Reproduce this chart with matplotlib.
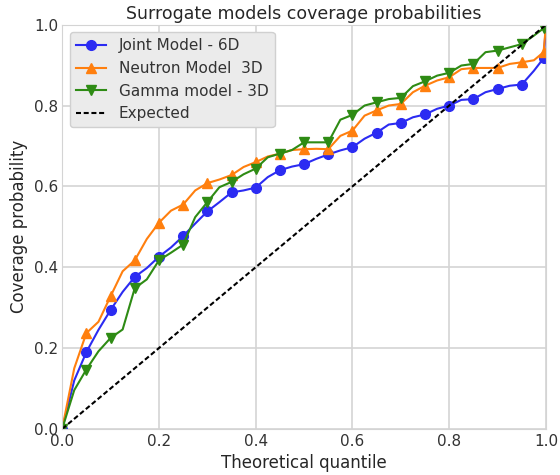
import numpy as np
import matplotlib
matplotlib.use('Agg')
import matplotlib.pyplot as plt

# theoretical quantiles (fine grid), markers every 0.05
quantile = [0.0, 0.025, 0.05, 0.075, 0.1, 0.125, 0.15, 0.175, 0.2, 0.225,
            0.25, 0.275, 0.3, 0.325, 0.35, 0.375, 0.4, 0.425, 0.45, 0.475,
            0.5, 0.525, 0.55, 0.575, 0.6, 0.625, 0.65, 0.675, 0.7, 0.725,
            0.75, 0.775, 0.8, 0.825, 0.85, 0.875, 0.9, 0.925, 0.95, 0.975,
            0.995, 1.0]

joint_cov = [0.0, 0.12, 0.19, 0.245, 0.294, 0.339, 0.376, 0.398, 0.426, 0.449,
             0.477, 0.508, 0.538, 0.561, 0.585, 0.59, 0.597, 0.623, 0.64, 0.649,
             0.655, 0.668, 0.679, 0.689, 0.697, 0.718, 0.733, 0.753, 0.757, 0.771,
             0.778, 0.792, 0.80, 0.814, 0.816, 0.833, 0.841, 0.849, 0.852, 0.886,
             0.917, 1.0]

neutron_cov = [0.0, 0.15, 0.237, 0.265, 0.328, 0.39, 0.417, 0.47, 0.51, 0.54,
               0.555, 0.59, 0.608, 0.617, 0.628, 0.648, 0.66, 0.674, 0.681, 0.69,
               0.692, 0.693, 0.692, 0.725, 0.738, 0.775, 0.788, 0.80, 0.804, 0.833,
               0.849, 0.862, 0.87, 0.89, 0.893, 0.893, 0.893, 0.903, 0.907, 0.912,
               0.932, 1.0]

gamma_cov = [0.0, 0.096, 0.147, 0.192, 0.225, 0.246, 0.348, 0.37, 0.417, 0.436,
             0.456, 0.524, 0.561, 0.598, 0.611, 0.63, 0.644, 0.672, 0.681, 0.69,
             0.709, 0.709, 0.709, 0.765, 0.777, 0.80, 0.808, 0.816, 0.819, 0.848,
             0.86, 0.874, 0.881, 0.899, 0.903, 0.932, 0.936, 0.944, 0.952, 0.973,
             0.991, 1.0]

labels = ['Joint Model - 6D', 'Neutron Model  3D', 'Gamma model - 3D']

marks = list(range(0, 41, 2))

fig = plt.figure(figsize=(5.6, 4.75), dpi=100)
ax = fig.add_axes([0.111, 0.097, 0.864, 0.851])

ax.plot(quantile, joint_cov, '-o', color='#2b2bf2', lw=1.5, ms=7, markevery=marks, label=labels[0])
ax.plot(quantile, neutron_cov, '-^', color='#ff7f0e', lw=1.5, ms=7, markevery=marks, label=labels[1])
ax.plot(quantile, gamma_cov, '-v', color='#2e8b14', lw=1.5, ms=7, markevery=marks, label=labels[2])
ax.plot([0, 1], [0, 1], color='k', ls='--', dashes=(2.4, 1.3), lw=1.5, label='Expected')

ax.set_xlim(0, 1)
ax.set_ylim(0, 1)
ax.set_xticks(np.arange(0, 1.01, 0.2))
ax.set_yticks(np.arange(0, 1.01, 0.2))
ax.grid(True, color='#d4d4d4', lw=1.2)
ax.set_axisbelow(True)
for s in ax.spines.values():
    s.set_color('#d4d4d4')
ax.tick_params(length=0, labelsize=11, colors='#333333', pad=3)
ax.tick_params(axis='x', pad=4)

ax.set_title('Surrogate models coverage probabilities', fontsize=12.5, color='#262626', pad=4)
ax.set_xlabel('Theoretical quantile', fontsize=12, color='#262626', labelpad=3)
ax.set_ylabel('Coverage probability', fontsize=12, color='#262626', labelpad=4)

leg = ax.legend(loc='upper left', fontsize=11, facecolor='#ebebeb', edgecolor='#d0d0d0', framealpha=1)
for t in leg.get_texts():
    t.set_color('#333333')

fig.savefig('out.png', dpi=100)
